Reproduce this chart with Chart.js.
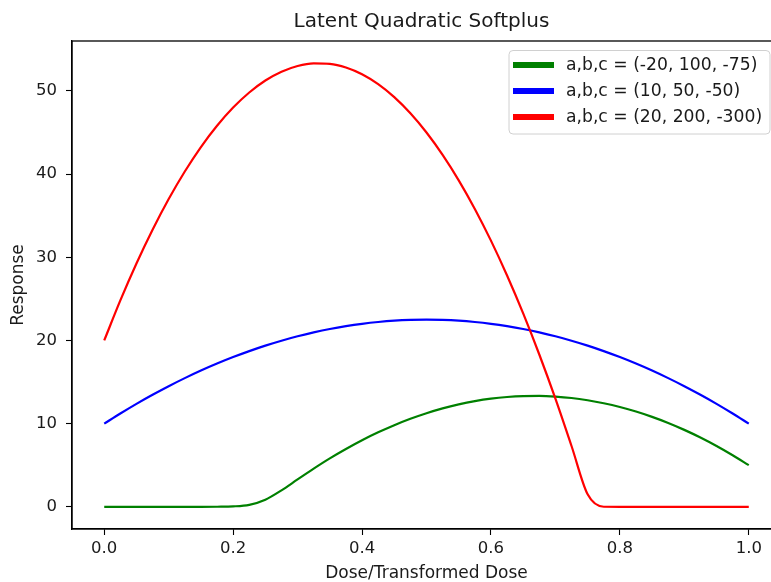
<!DOCTYPE html>
<html>
<head>
<meta charset="utf-8">
<script src="https://cdn.jsdelivr.net/npm/chart.js@4"></script>
<style>
  html, body { margin: 0; padding: 0; background: #fff; overflow: hidden; }
  #wrap { position: relative; width: 782px; height: 582px; }
  #myChart { display: block; }
</style>
</head>
<body>
<div id="wrap"><canvas id="myChart" width="782" height="582"></canvas></div>
<script>
const doses = [0, 0.025, 0.05, 0.075, 0.1, 0.125, 0.15, 0.175, 0.2, 0.225,
    0.25, 0.275, 0.3, 0.325, 0.35, 0.375, 0.4, 0.425, 0.45, 0.475,
    0.5, 0.525, 0.55, 0.575, 0.6, 0.625, 0.65, 0.675, 0.7, 0.725,
    0.75, 0.775, 0.8, 0.825, 0.85, 0.875, 0.9, 0.925, 0.95, 0.975, 1.0];

const greenResp = [0, 0, 0, 0, 0, 0, 0, 0.01, 0.05, 0.24,
    0.86, 1.98, 3.29, 4.59, 5.82, 6.95, 8.0, 8.95, 9.81, 10.58,
    11.25, 11.83, 12.31, 12.70, 13.0, 13.20, 13.31, 13.33, 13.25, 13.08,
    12.81, 12.45, 12.0, 11.45, 10.81, 10.08, 9.25, 8.33, 7.31, 6.20, 5.01];

const blueResp = [10, 11.22, 12.38, 13.47, 14.5, 15.47, 16.38, 17.22, 18, 18.72,
    19.38, 19.97, 20.5, 20.97, 21.38, 21.72, 22, 22.22, 22.38, 22.47,
    22.5, 22.47, 22.38, 22.22, 22, 21.72, 21.38, 20.97, 20.5, 19.97,
    19.38, 18.72, 18, 17.22, 16.38, 15.47, 14.5, 13.47, 12.38, 11.22, 10];

const redResp = [20, 24.81, 29.25, 33.31, 37, 40.31, 43.25, 45.81, 48, 49.81,
    51.25, 52.31, 53, 53.31, 53.25, 52.81, 52, 50.81, 49.25, 47.31,
    45, 42.31, 39.25, 35.81, 32, 27.81, 23.25, 18.31, 13, 7.31,
    1.5, 0.01, 0, 0, 0, 0, 0, 0, 0, 0, 0];

const seriesLabels = ['a,b,c = (-20, 100, -75)', 'a,b,c = (10, 50, -50)', 'a,b,c = (20, 200, -300)'];
const xTicks = [0, 0.2, 0.4, 0.6, 0.8, 1.0];
const yTicks = [0, 10, 20, 30, 40, 50];

const FONT = 'DejaVu Sans';
const TEXT = '#1a1a1a';

function pts(ys) {
    return doses.map((d, i) => ({x: d, y: ys[i]}));
}

// title, axis labels, frame and legend drawn on top
const decor = {
    id: 'decor',
    afterDraw(chart) {
        const c = chart.ctx;
        const a = chart.chartArea;
        c.save();
        c.strokeStyle = '#000';
        c.lineWidth = 1.3;
        c.strokeRect(a.left, a.top, a.right - a.left, a.bottom - a.top);

        c.fillStyle = TEXT;
        c.textAlign = 'center';
        c.textBaseline = 'middle';
        const cx = (a.left + a.right) / 2;
        c.font = '20px "' + FONT + '"';
        c.fillText('Latent Quadratic Softplus', cx - 5, 22);
        c.font = '17px "' + FONT + '"';
        c.fillText('Dose/Transformed Dose', cx, 574);
        c.save();
        c.translate(19, (a.top + a.bottom) / 2);
        c.rotate(-Math.PI / 2);
        c.fillText('Response', 0, 0);
        c.restore();

        // legend box
        const bx = 509, by = 50.5, bw = 261, bh = 83.5, r = 4;
        c.beginPath();
        c.moveTo(bx + r, by);
        c.arcTo(bx + bw, by, bx + bw, by + bh, r);
        c.arcTo(bx + bw, by + bh, bx, by + bh, r);
        c.arcTo(bx, by + bh, bx, by, r);
        c.arcTo(bx, by, bx + bw, by, r);
        c.closePath();
        c.fillStyle = 'rgba(255,255,255,0.8)';
        c.fill();
        c.strokeStyle = '#d0d0d0';
        c.lineWidth = 1;
        c.stroke();

        c.textAlign = 'left';
        chart.data.datasets.forEach((ds, i) => {
            const y = 65 + i * 26;
            c.strokeStyle = ds.borderColor;
            c.lineWidth = 6;
            c.lineCap = 'butt';
            c.beginPath();
            c.moveTo(513, y);
            c.lineTo(554, y);
            c.stroke();
            c.fillStyle = TEXT;
            c.font = '17.2px "' + FONT + '"';
            c.fillText(ds.label, 566, y + 1);
        });
        c.restore();
    }
};

const ctx = document.getElementById('myChart');

new Chart(ctx, {
    type: 'line',
    data: {
        datasets: [
            {label: seriesLabels[0], data: pts(greenResp), borderColor: '#008000', order: 3},
            {label: seriesLabels[1], data: pts(blueResp), borderColor: '#0000ff', order: 2},
            {label: seriesLabels[2], data: pts(redResp), borderColor: '#ff0000', order: 1}
        ]
    },
    options: {
        responsive: false,
        maintainAspectRatio: false,
        animation: false,
        devicePixelRatio: 1,
        clip: false,
        layout: {padding: {top: 41, left: 0, right: 1, bottom: 0}},
        elements: {
            line: {borderWidth: 2.2, cubicInterpolationMode: 'monotone', fill: false},
            point: {radius: 0, hoverRadius: 0}
        },
        plugins: {
            legend: {display: false},
            title: {display: false},
            tooltip: {enabled: false}
        },
        scales: {
            x: {
                type: 'linear',
                min: -0.05,
                max: 1.05,
                afterFit: (s) => { s.height = 53; },
                afterBuildTicks: (s) => { s.ticks = xTicks.map(v => ({value: v})); },
                grid: {drawOnChartArea: false, drawTicks: true, tickLength: 6, color: '#000', tickWidth: 1.1},
                border: {display: true, color: '#000', width: 1.3},
                ticks: {
                    font: {family: FONT, size: 16.5},
                    color: TEXT,
                    padding: 4,
                    maxRotation: 0,
                    callback: (v) => Number(v).toFixed(1)
                }
            },
            y: {
                type: 'linear',
                min: -2.667,
                max: 56,
                afterFit: (s) => { s.width = 72; },
                afterBuildTicks: (s) => { s.ticks = yTicks.map(v => ({value: v})); },
                grid: {drawOnChartArea: false, drawTicks: true, tickLength: 6, color: '#000', tickWidth: 1.1},
                border: {display: true, color: '#000', width: 1.3},
                ticks: {
                    font: {family: FONT, size: 16.5},
                    color: TEXT,
                    padding: 9,
                    callback: (v) => String(v)
                }
            }
        }
    },
    plugins: [decor]
});
</script>
</body>
</html>
